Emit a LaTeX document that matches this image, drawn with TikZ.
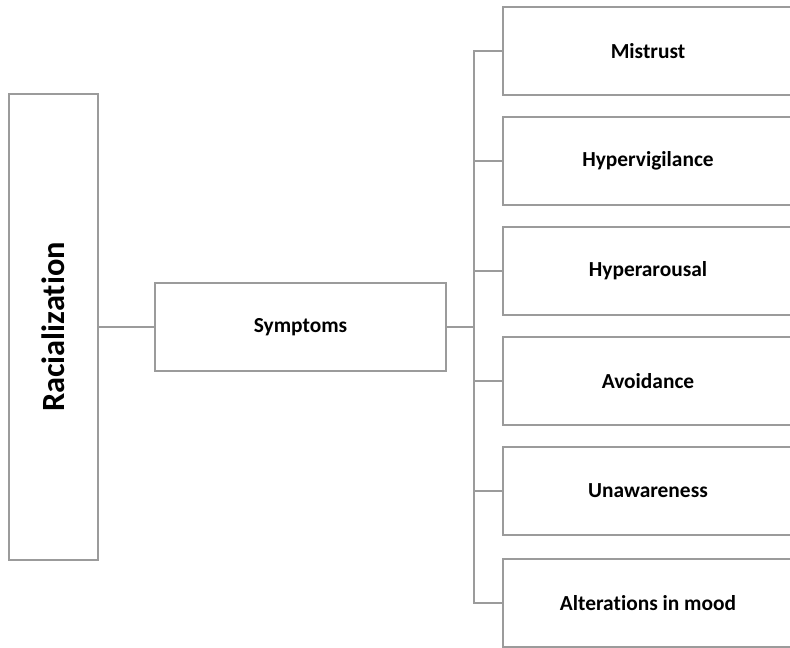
\documentclass[tikz,border=0pt]{standalone}
\usepackage{fontspec}
\setmainfont{Carlito}[Ligatures=NoCommon]
\begin{document}
\begin{tikzpicture}[x=1pt,y=-1pt,
  gline/.style={draw=linegray,line width=2.2pt},
  box/.style={draw=linegray,line width=2.2pt,fill=white,rectangle,inner sep=0pt,font=\bfseries\fontsize{21.4}{24}\selectfont,text=black},
  rbox/.style={box,minimum width=290pt,minimum height=88pt}]
\definecolor{linegray}{HTML}{9B9B9B}
\useasboundingbox (0,0) rectangle (790,648);
\clip (0,0) rectangle (790,648);
\node[box,minimum width=89pt,minimum height=466pt] (rac) at (53.5,327) {};
\node[rotate=90,font=\bfseries\fontsize{32.4}{36}\selectfont] (ractext) at (rac.center) {Racialization};
\node[box,minimum width=291pt,minimum height=88pt] (sym) at (300.5,327) {Symptoms};
\node[rbox] (b1) at (648,51) {Mistrust};
\node[rbox] (b2) at (648,161) {Hypervigilance};
\node[rbox] (b3) at (648,271) {Hyperarousal};
\node[rbox] (b4) at (648,381) {Avoidance};
\node[rbox] (b5) at (648,491) {Unawareness};
\node[rbox] (b6) at (648,603) {Alterations in mood};
\draw[gline] (rac.east) -- (sym.west);
\coordinate (bus) at (474,327);
\draw[gline] (sym.east) -- (bus);
\foreach \b in {b1,b2,b3,b4,b5,b6}{
  \draw[gline] (bus) |- (\b.west);
}
\end{tikzpicture}
\end{document}
